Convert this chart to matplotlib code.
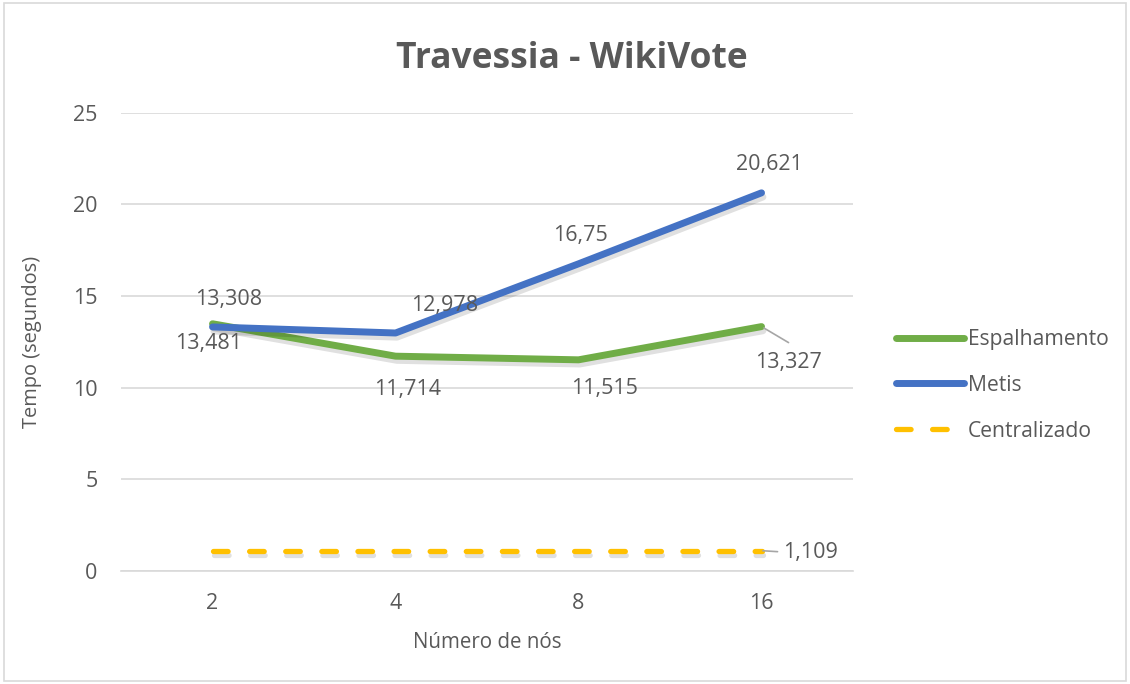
import numpy as np
import matplotlib
matplotlib.use("Agg")
import matplotlib.pyplot as plt
import matplotlib.patheffects as pe
from matplotlib.patches import Rectangle

plt.rcParams['font.family'] = ['Open Sans', 'DejaVu Sans']
plt.rcParams['lines.scale_dashes'] = False

# data
nodes = ["2", "4", "8", "16"]
espalhamento = [13.481, 11.714, 11.515, 13.327]
metis = [13.308, 12.978, 16.75, 20.621]
centralizado = [1.109, 1.109, 1.109, 1.109]

TXT = '#595959'
GREEN = '#70AD47'
BLUE = '#4472C4'
YELLOW = '#FFC000'
FS = 15.5


def fmt(v):
  return ('%g' % v).replace('.', ',')


fig = plt.figure(figsize=(11.3, 6.84), dpi=100)
ax = fig.add_axes([0.1071, 0.1652, 0.6478, 0.6703])

x = np.arange(len(nodes))
shadow = [pe.SimpleLineShadow(offset=(1, -3), shadow_color='k', alpha=0.12), pe.Normal()]

ax.plot(x, espalhamento, color=GREEN, lw=5, solid_capstyle='round',
        solid_joinstyle='round', label='Espalhamento', path_effects=shadow, zorder=3)
ax.plot(x, metis, color=BLUE, lw=5, solid_capstyle='round',
        solid_joinstyle='round', label='Metis', path_effects=shadow, zorder=4)
ax.plot(x, centralizado, color=YELLOW, lw=3.8, dashes=(10.5, 15.5), dash_capstyle='round',
        label='Centralizado', path_effects=shadow, zorder=3)

ax.set_xlim(-0.5, len(nodes) - 0.5)
ax.set_ylim(0, 25)
ax.set_yticks(np.arange(0, 26, 5))
ax.set_xticks(x)
ax.set_xticklabels(nodes)
ax.grid(axis='y', color='#D9D9D9', lw=1.2)
ax.set_axisbelow(True)
for s in ['left', 'right', 'top']:
  ax.spines[s].set_visible(False)
ax.spines['bottom'].set_color('#D9D9D9')
ax.spines['bottom'].set_linewidth(1.2)
ax.tick_params(length=0, labelsize=FS, labelcolor=TXT)
ax.tick_params(axis='y', pad=17)
ax.tick_params(axis='x', pad=16)

ax.set_xlabel('Número de nós', fontsize=14.8, color=TXT, labelpad=13)
ax.set_ylabel('Tempo (segundos)', fontsize=14.4, color=TXT, labelpad=22)

# label offsets in pixels (dx, dy up)
off_esp = [(-4, -20), (12, -33), (26, -29), (27, -36)]
off_met = [(16, 27), (49, 27), (2, 28), (8, 28)]
for i in range(len(nodes)):
  dx, dy = off_esp[i]
  ax.annotate(fmt(espalhamento[i]), (x[i], espalhamento[i]), xytext=(dx * 0.72, dy * 0.72),
              textcoords='offset points', ha='center', va='center', fontsize=FS, color=TXT, zorder=6)
  dx, dy = off_met[i]
  ax.annotate(fmt(metis[i]), (x[i], metis[i]), xytext=(dx * 0.72, dy * 0.72),
              textcoords='offset points', ha='center', va='center', fontsize=FS, color=TXT, zorder=6)

ax.annotate(fmt(centralizado[-1]), (x[-1], centralizado[-1]), xytext=(49 * 0.72, -2 * 0.72),
            textcoords='offset points', ha='center', va='center', fontsize=FS, color=TXT)

# leader lines
ax.annotate('', (x[-1], espalhamento[-1]), xytext=(27 * 0.72, -16 * 0.72), textcoords='offset points',
            arrowprops=dict(arrowstyle='-', color='#A6A6A6', lw=1.2, shrinkA=0, shrinkB=2))
ax.annotate('', (x[-1], centralizado[-1]), xytext=(16 * 0.72, -1 * 0.72), textcoords='offset points',
            arrowprops=dict(arrowstyle='-', color='#A6A6A6', lw=1.2, shrinkA=0, shrinkB=1))

fig.text(572 / 1130, 1 - 59 / 684, 'Travessia - WikiVote', ha='center', va='center',
         fontsize=25.5, fontweight='bold', color=TXT)

leg = ax.legend(loc='center left', bbox_to_anchor=(1.033, 0.405), frameon=False, fontsize=15.2,
                handlelength=3.2, handletextpad=0.2, labelspacing=1.17, labelcolor=TXT)
for h in leg.get_lines():
  h.set_path_effects([])

fig.patches.append(Rectangle((4 / 1130, 3 / 684), 1122 / 1130, 678 / 684, transform=fig.transFigure,
                             fill=False, edgecolor='#D9D9D9', lw=1.2))

fig.savefig('out.png', dpi=100)
